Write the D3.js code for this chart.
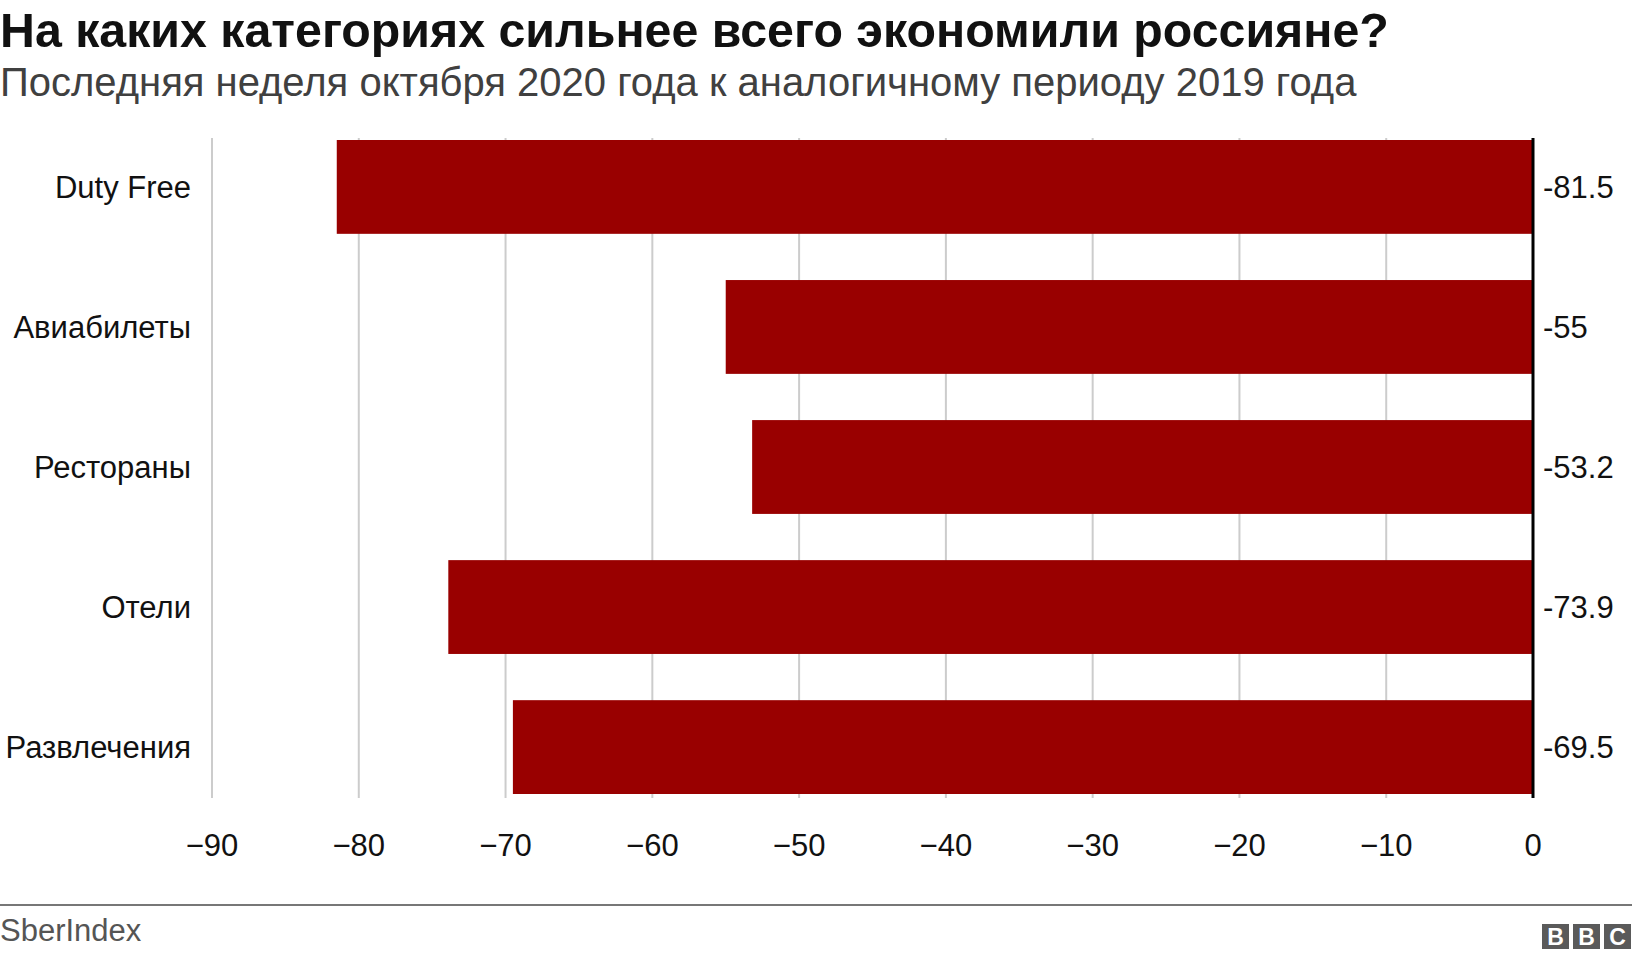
<!DOCTYPE html><html><head><meta charset="utf-8"><script src="https://cdn.jsdelivr.net/npm/d3@7"></script>
<style>body{margin:0;background:#fff}svg{font-family:Arial,"Liberation Sans",Helvetica,sans-serif}</style></head><body>
<svg id="c" width="1632" height="960"></svg>
<script>
const categories=["Duty Free","Авиабилеты","Рестораны","Отели","Развлечения"];
const values=[-81.5,-55,-53.2,-73.9,-69.5];
const valueLabels=["-81.5","-55","-53.2","-73.9","-69.5"];
const ticks=[-90,-80,-70,-60,-50,-40,-30,-20,-10,0];
const svg=d3.select("#c");
const x=d3.scaleLinear().domain([-90,0]).range([212,1533]);
const y=d3.scaleBand().domain(categories).range([140,794]).paddingInner(0.33).paddingOuter(0);
svg.append("text").attr("x",0).attr("y",47).attr("font-size",48.3).attr("font-weight","bold").attr("fill","#111").text("На каких категориях сильнее всего экономили россияне?");
svg.append("text").attr("x",0).attr("y",96).attr("font-size",40).attr("fill","#404040").text("Последняя неделя октября 2020 года к аналогичному периоду 2019 года");
svg.append("g").selectAll("line").data(ticks).join("line").attr("x1",d=>x(d)).attr("x2",d=>x(d)).attr("y1",138).attr("y2",798).attr("stroke","#ccc").attr("stroke-width",2);
svg.append("g").selectAll("text").data(ticks).join("text").attr("x",d=>x(d)).attr("y",856).attr("text-anchor","middle").attr("font-size",31).attr("fill","#111").text(d=>d<0?"−"+Math.abs(d):d);
svg.append("g").selectAll("rect").data(values).join("rect").attr("x",d=>x(d)).attr("width",d=>x(0)-x(d)).attr("y",(d,i)=>y(categories[i])).attr("height",y.bandwidth()).attr("fill","#990000");
svg.append("line").attr("x1",x(0)).attr("x2",x(0)).attr("y1",138).attr("y2",798).attr("stroke","#000").attr("stroke-width",3);
svg.append("g").selectAll("text").data(categories).join("text").attr("x",191).attr("y",d=>y(d)+y.bandwidth()/2+11).attr("text-anchor","end").attr("font-size",31).attr("fill","#111").text(d=>d);
svg.append("g").selectAll("text").data(valueLabels).join("text").attr("x",1543).attr("y",(d,i)=>y(categories[i])+y.bandwidth()/2+11).attr("font-size",31).attr("fill","#111").text(d=>d);
svg.append("line").attr("x1",0).attr("x2",1632).attr("y1",905).attr("y2",905).attr("stroke","#777").attr("stroke-width",2);
svg.append("text").attr("x",0).attr("y",941).attr("font-size",31).attr("fill","#555").text("SberIndex");
const bbc=svg.append("g");
["B","B","C"].forEach((t,i)=>{const bx=1542+i*31;bbc.append("rect").attr("x",bx).attr("y",924).attr("width",27).attr("height",25).attr("fill","#5a5a5a");bbc.append("text").attr("x",bx+13.5).attr("y",945).attr("text-anchor","middle").attr("font-size",23).attr("font-weight","bold").attr("fill","#fff").text(t);});
</script></body></html>
